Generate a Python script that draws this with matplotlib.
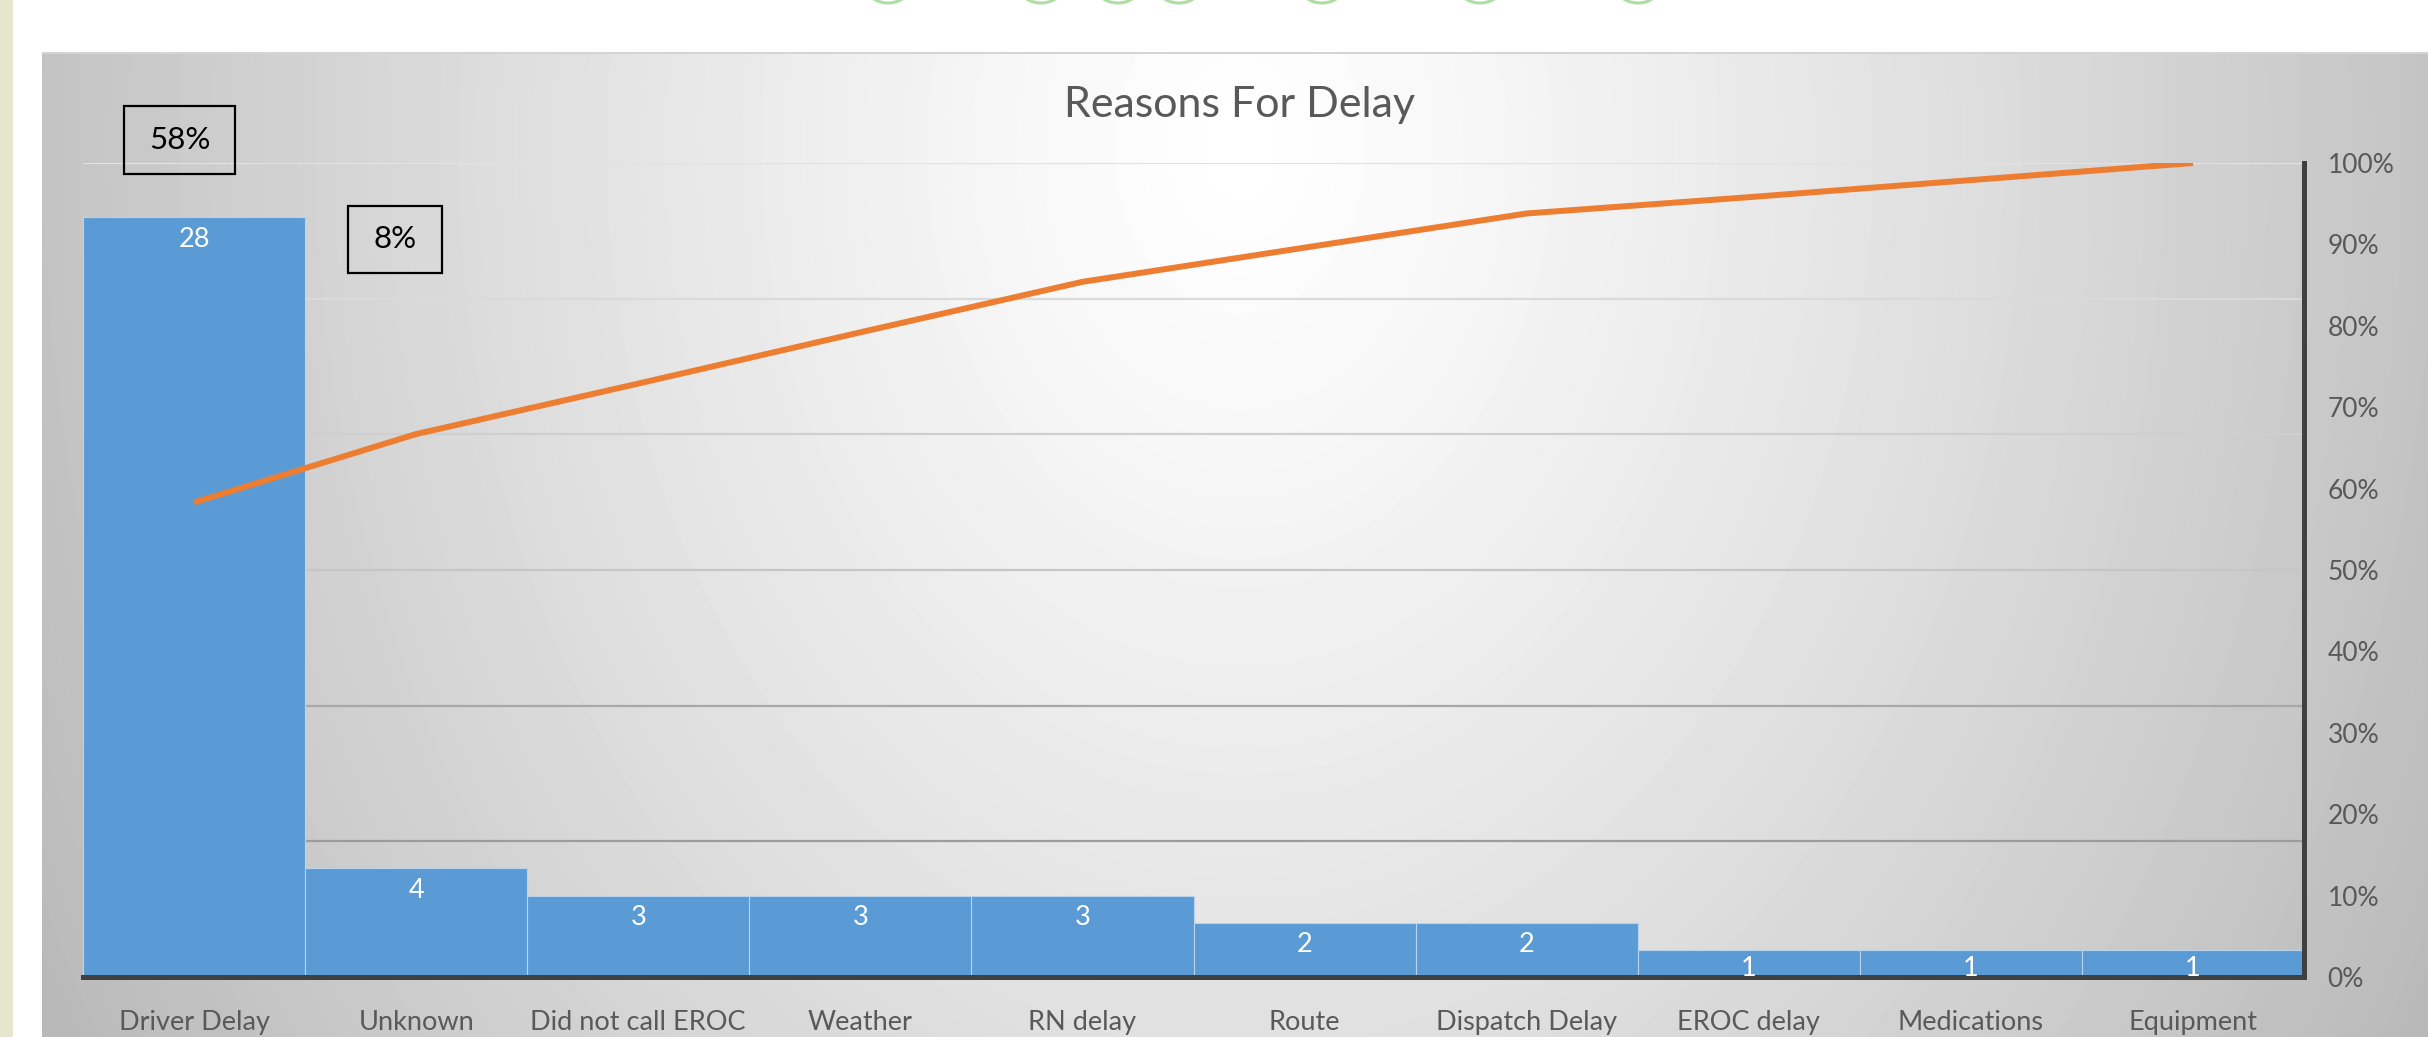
"""
Pareto chart of the reasons for delay: counts as bars, cumulative share as a line.
"""
import numpy as np
import matplotlib.pyplot as plt
from matplotlib.patches import Rectangle, Arc
from matplotlib.ticker import PercentFormatter

plt.rcParams['font.family'] = ['Lato', 'DejaVu Sans']

categories = ["Driver Delay", "Unknown", "Did not call EROC", "Weather", "RN delay",
              "Route", "Dispatch Delay", "EROC delay", "Medications", "Equipment"]
counts = [28, 4, 3, 3, 3, 2, 2, 1, 1, 1]
cumulative_pct = [58.3, 66.7, 72.9, 79.2, 85.4, 89.6, 93.8, 95.8, 97.9, 100.0]
pct_ticks = [0, 10, 20, 30, 40, 50, 60, 70, 80, 90, 100]
callouts = ["58%", "8%"]

W, H = 2428, 1037
BAR_BLUE = "#5B9BD5"
LINE_ORANGE = "#ED7D31"
TEXT_GRAY = "#595959"
SPINE = "#404040"


def box(px_left, px_top, px_right, px_bottom):
    # figure-fraction rectangle from pixel edges (origin top-left)
    return [px_left / W, 1 - px_bottom / H, (px_right - px_left) / W, (px_bottom - px_top) / H]


fig = plt.figure(figsize=(W / 100, H / 100), dpi=100)
fig.patch.set_facecolor("white")

# beige strip on the far left of the slide
fig.patches.append(Rectangle((0, 0), 13 / W, 1, transform=fig.transFigure,
                             facecolor="#E6E6CC", edgecolor="none"))

# green letters from the slide title, cut off at the top edge
for gx in [888, 1041, 1118, 1179, 1322, 1480, 1638]:
    fig.patches.append(Arc((gx / W, 1 + 14 / H), 44 / W, 34 / H, theta1=215, theta2=325,
                           transform=fig.transFigure, color="#9AD68A", lw=2.2, alpha=0.8))

# grey radial-gradient chart panel
bg = fig.add_axes(box(42, 52, W, H))
yy, xx = np.mgrid[52:H, 42:W]
r = np.sqrt(((xx - 1240) / 1250.0) ** 2 + ((yy - 150) / 1630.0) ** 2)
shade = np.clip(255 - 63 * r ** 1.2, 185, 255) / 255.0
bg.imshow(shade, cmap="gray", vmin=0, vmax=1, aspect="auto", interpolation="bilinear")
bg.axis("off")
fig.patches.append(Rectangle((42 / W, 1 - 54 / H), 1, 2 / H, transform=fig.transFigure,
                             facecolor="#D4D4D4", edgecolor="none"))

ax = fig.add_axes(box(83, 163, 2304, 977))
ax.set_facecolor("none")
x = np.arange(len(categories))

# gridlines get darker towards the bottom like in the slide
grid_cols = ["#9C9C9C", "#A8A8A8", "#C6C6C6", "#CFCFCF", "#DADADA", "#E2E2E2"]
for g, gc in zip([5, 10, 15, 20, 25, 30], grid_cols):
    ax.axhline(g, color=gc, lw=1.6, zorder=0)

ax.bar(x, counts, width=1.0, color=BAR_BLUE, edgecolor="#B9D3EC", linewidth=0.8, zorder=2)
for i, c in enumerate(counts):
    ax.annotate(str(c), (i, c), xytext=(0, -7 if c > 1 else -4.5), textcoords="offset points",
                ha="center", va="top", color="white", fontsize=19.5, zorder=3)

ax.set_xlim(-0.5, len(categories) - 0.5)
ax.set_ylim(0, 30)
ax.set_yticks([])
ax.set_xticks(x, categories)
ax.tick_params(axis="x", length=0, pad=24, labelsize=19.5, labelcolor=TEXT_GRAY)
for s in ["top", "left", "right"]:
    ax.spines[s].set_visible(False)
ax.spines["bottom"].set_color(SPINE)
ax.spines["bottom"].set_linewidth(3.6)

ax2 = ax.twinx()
ax2.plot(x, cumulative_pct, color=LINE_ORANGE, lw=4.3, solid_capstyle="butt", zorder=4)
ax2.set_ylim(0, 100)
ax2.set_yticks(pct_ticks)
ax2.yaxis.set_major_formatter(PercentFormatter(decimals=0))
ax2.tick_params(axis="y", length=0, pad=17, labelsize=19, labelcolor=TEXT_GRAY)
for s in ["top", "left", "bottom"]:
    ax2.spines[s].set_visible(False)
ax2.spines["right"].set_color(SPINE)
ax2.spines["right"].set_linewidth(3.6)

fig.text(1239 / W, 1 - 117 / H, "Reasons For Delay", ha="center", va="baseline",
         fontsize=31, color=TEXT_GRAY)

# boxed callouts
for label, (l, t, rr, b) in zip(callouts, [(124, 106, 235, 174), (348, 206, 442, 273)]):
    fig.patches.append(Rectangle((l / W, 1 - b / H), (rr - l) / W, (b - t) / H,
                                 transform=fig.transFigure, facecolor="none",
                                 edgecolor="black", lw=1.6))
    fig.text((l + rr) / 2 / W, 1 - (t + b) / 2 / H, label, ha="center", va="center",
             fontsize=22.5, color="black")

fig.savefig("out.png", dpi=100)
